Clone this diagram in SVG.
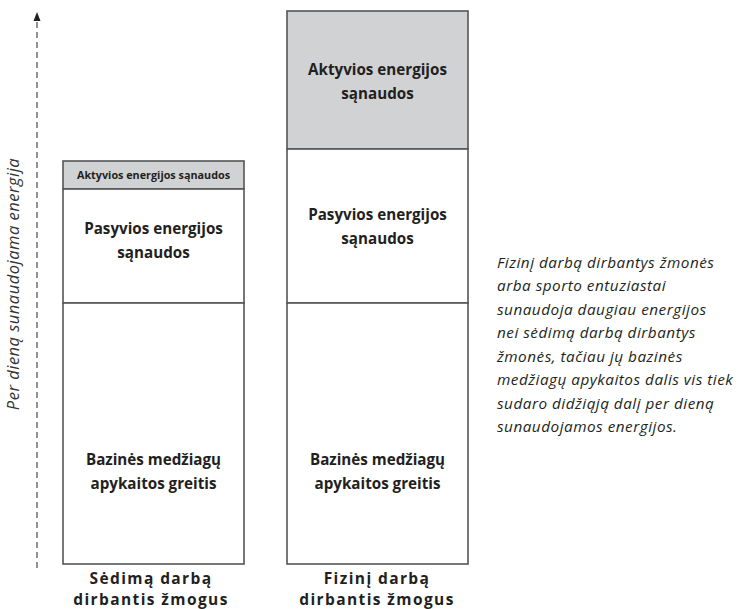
<svg xmlns="http://www.w3.org/2000/svg" width="740" height="609" viewBox="0 0 740 609">
<defs>
<style>
.box{stroke:#555;stroke-width:1.6;}
.w{fill:#fff;}
.g{fill:#d1d2d4;}
.t{font-family:"Open Sans","Noto Sans",sans-serif;font-weight:700;fill:#231f20;text-anchor:middle;}
.big{font-size:15.2px;}
.sm{font-size:10.8px;}
.lab{font-family:"Open Sans","Noto Sans",sans-serif;font-weight:700;font-size:15.5px;fill:#231f20;text-anchor:middle;letter-spacing:1.4px;}
.it{font-family:"Open Sans","Noto Sans",sans-serif;font-style:italic;font-size:15.3px;fill:#231f20;letter-spacing:0.5px;}
.ax{font-family:"Open Sans","Noto Sans",sans-serif;font-style:italic;font-size:16.5px;fill:#333;text-anchor:middle;letter-spacing:0.5px;}
</style>
</defs>
<rect width="740" height="609" fill="#fff"/>
<g id="connectors">
<line x1="37" y1="568" x2="37" y2="21" stroke="#777" stroke-width="1.6" stroke-dasharray="6,4"/>
<path d="M37,12 L40.5,21 L33.5,21 Z" fill="#231f20"/>
</g>
<g id="axis-label">
<text class="ax" transform="translate(19,284) rotate(-90)">Per dieną sunaudojama energija</text>
</g>
<g id="left-bar">
<g id="left-active"><rect class="box g" x="63" y="161" width="181" height="28"/>
<text class="t sm" x="153.5" y="179">Aktyvios energijos sąnaudos</text></g>
<g id="left-passive"><rect class="box w" x="63" y="189" width="181" height="114"/>
<text class="t big" x="153.5" y="234">Pasyvios energijos</text>
<text class="t big" x="153.5" y="258">sąnaudos</text></g>
<g id="left-base"><rect class="box w" x="63" y="303" width="181" height="261"/>
<text class="t big" x="153.5" y="465">Bazinės medžiagų</text>
<text class="t big" x="153.5" y="489">apykaitos greitis</text></g>
<text class="lab" x="151" y="584">Sėdimą darbą</text>
<text class="lab" x="151" y="605">dirbantis žmogus</text>
</g>
<g id="right-bar">
<g id="right-active"><rect class="box g" x="287" y="11" width="181" height="138"/>
<text class="t big" x="377.5" y="75">Aktyvios energijos</text>
<text class="t big" x="377.5" y="99">sąnaudos</text></g>
<g id="right-passive"><rect class="box w" x="287" y="149" width="181" height="154"/>
<text class="t big" x="377.5" y="220">Pasyvios energijos</text>
<text class="t big" x="377.5" y="244">sąnaudos</text></g>
<g id="right-base"><rect class="box w" x="287" y="303" width="181" height="261"/>
<text class="t big" x="377.5" y="465">Bazinės medžiagų</text>
<text class="t big" x="377.5" y="489">apykaitos greitis</text></g>
<text class="lab" x="377" y="584">Fizinį darbą</text>
<text class="lab" x="377" y="605">dirbantis žmogus</text>
</g>
<g id="note">
<text class="it" x="497" y="268">Fizinį darbą dirbantys žmonės</text>
<text class="it" x="497" y="291">arba sporto entuziastai</text>
<text class="it" x="497" y="315">sunaudoja daugiau energijos</text>
<text class="it" x="497" y="338">nei sėdimą darbą dirbantys</text>
<text class="it" x="497" y="362">žmonės, tačiau jų bazinės</text>
<text class="it" x="497" y="385">medžiagų apykaitos dalis vis tiek</text>
<text class="it" x="497" y="409">sudaro didžiąją dalį per dieną</text>
<text class="it" x="497" y="432">sunaudojamos energijos.</text>
</g>
</svg>
